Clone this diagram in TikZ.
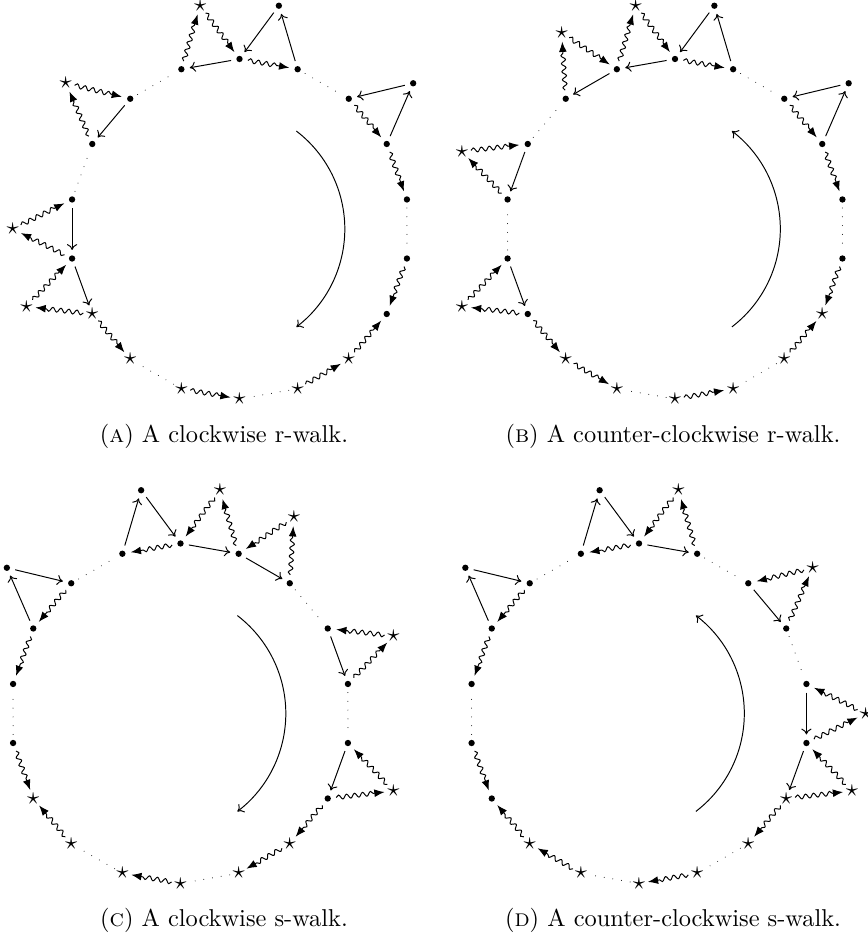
\documentclass[tikz,border=0pt]{standalone}
\usetikzlibrary{decorations.pathmorphing,arrows.meta}
\begin{document}
\begin{tikzpicture}[x=0.41pt,y=0.41pt,
  dotn/.style={circle,fill,inner sep=0pt,minimum size=2.6pt,outer sep=2.2pt},
  starn/.style={circle,inner sep=0pt,outer sep=0.3pt},
  sarr/.style={-{To[length=2.4pt,width=4.2pt]}},
  warr/.style={decorate,decoration={snake,amplitude=0.9pt,segment length=3.3pt,post length=4.2pt},-{Latex[length=4.2pt,width=3.2pt]}},
  dotl/.style={line cap=round,dash pattern=on 0pt off 3.6pt},
  captxt/.style={anchor=base}]
\useasboundingbox (0,0) rectangle (868,941);
\def\R{170}
\def\Q{226.7}
% ---------------- Panel A ----------------
\begin{scope}[shift={(239.5,712)}]
  \foreach \k in {0,1,2,3,4,5,6,13,14,15,16,17} \node[dotn] (A\k) at ({90-20*\k}:\R) {};
  \foreach \k in {7,8,9,10,11,12} \node[starn] (A\k) at ({90-20*\k}:\R) {$\star$};
  \node[dotn] (Aq0) at (80:\Q) {};
  \node[dotn] (Aq2) at (40:\Q) {};
  \node[starn] (Aq12) at (200:\Q) {$\star$};
  \node[starn] (Aq13) at (180:\Q) {$\star$};
  \node[starn] (Aq15) at (140:\Q) {$\star$};
  \node[starn] (Aq17) at (100:\Q) {$\star$};
  \foreach \a/\b in {0/17,1/q0,q0/0,q2/2,3/q2,14/13,13/12,16/15} \draw[sarr] (A\a) -- (A\b);
  \foreach \a/\b in {0/1,17/q17,q17/0,2/3,3/4,5/6,7/6,8/7,10/9,12/11,q12/13,12/q12,q13/14,13/q13,15/q15,q15/16} \draw[warr] (A\a) -- (A\b);
  \foreach \a/\b in {1/2,4/5,8/9,10/11,14/15,16/17} \draw[dotl] (A\a) -- (A\b);
  \draw[sarr] (56.9,97.9) arc[start angle=52.6,end angle=-52.6,radius=123.3];
\end{scope}
\node[captxt] (capA) at (224,498.5) {(\textsc{a}) A clockwise r-walk.};
% ---------------- Panel B ----------------
\begin{scope}[shift={(675,712)}]
  \foreach \k in {0,1,2,3,4,5,12,13,14,15,16,17} \node[dotn] (B\k) at ({90-20*\k}:\R) {};
  \foreach \k in {6,7,8,9,10,11} \node[starn] (B\k) at ({90-20*\k}:\R) {$\star$};
  \node[dotn] (Bq0) at (80:\Q) {};
  \node[dotn] (Bq2) at (40:\Q) {};
  \node[starn] (Bq17) at (100:\Q) {$\star$};
  \node[starn] (Bq16) at (120:\Q) {$\star$};
  \node[starn] (Bq14) at (160:\Q) {$\star$};
  \node[starn] (Bq12) at (200:\Q) {$\star$};
  \foreach \a/\b in {0/17,1/q0,q0/0,q2/2,3/q2,17/16,15/14,13/12} \draw[sarr] (B\a) -- (B\b);
  \foreach \a/\b in {0/1,17/q17,q17/0,2/3,3/4,16/q16,q16/17,q14/15,14/q14,q12/13,12/q12,12/11,11/10,9/8,7/6,5/6} \draw[warr] (B\a) -- (B\b);
  \foreach \a/\b in {1/2,4/5,15/16,13/14,9/10,7/8} \draw[dotl] (B\a) -- (B\b);
  \draw[sarr] (56.9,-97.9) arc[start angle=-52.6,end angle=52.6,radius=123.3];
\end{scope}
\node[captxt] (capB) at (673,498.5) {(\textsc{b}) A counter-clockwise r-walk.};
% ---------------- Panel C ----------------
\begin{scope}[shift={(180.5,227.5)}]
  \foreach \k in {0,1,2,3,4,5,6,13,14,15,16,17} \node[dotn] (C\k) at ({90-20*\k}:\R) {};
  \foreach \k in {7,8,9,10,11,12} \node[starn] (C\k) at ({90-20*\k}:\R) {$\star$};
  \node[dotn] (Cq17) at (100:\Q) {};
  \node[dotn] (Cq15) at (140:\Q) {};
  \node[starn] (Cq0) at (80:\Q) {$\star$};
  \node[starn] (Cq1) at (60:\Q) {$\star$};
  \node[starn] (Cq3) at (20:\Q) {$\star$};
  \node[starn] (Cq5) at (-20:\Q) {$\star$};
  \foreach \a/\b in {17/q17,q17/0,0/1,1/2,3/4,5/6,15/q15,q15/16} \draw[sarr] (C\a) -- (C\b);
  \foreach \a/\b in {0/17,q0/0,1/q0,q1/1,2/q1,q3/3,4/q3,q5/5,6/q5,6/7,7/8,9/10,11/12,13/12,15/14,16/15} \draw[warr] (C\a) -- (C\b);
  \foreach \a/\b in {2/3,4/5,8/9,10/11,13/14,16/17} \draw[dotl] (C\a) -- (C\b);
  \draw[sarr] (56.9,97.9) arc[start angle=52.6,end angle=-52.6,radius=123.3];
\end{scope}
\node[captxt] (capC) at (224,14) {(\textsc{c}) A clockwise s-walk.};
% ---------------- Panel D ----------------
\begin{scope}[shift={(639,227.5)}]
  \foreach \k in {0,1,2,3,4,5,12,13,14,15,16,17} \node[dotn] (D\k) at ({90-20*\k}:\R) {};
  \foreach \k in {6,7,8,9,10,11} \node[starn] (D\k) at ({90-20*\k}:\R) {$\star$};
  \node[dotn] (Dq17) at (100:\Q) {};
  \node[dotn] (Dq15) at (140:\Q) {};
  \node[starn] (Dq0) at (80:\Q) {$\star$};
  \node[starn] (Dq2) at (40:\Q) {$\star$};
  \node[starn] (Dq4) at (0:\Q) {$\star$};
  \node[starn] (Dq5) at (-20:\Q) {$\star$};
  \foreach \a/\b in {17/q17,q17/0,0/1,2/3,4/5,5/6,15/q15,q15/16} \draw[sarr] (D\a) -- (D\b);
  \foreach \a/\b in {0/17,q0/0,1/q0,q2/2,3/q2,q4/4,5/q4,q5/5,6/q5,6/7,8/9,10/11,11/12,13/12,15/14,16/15} \draw[warr] (D\a) -- (D\b);
  \foreach \a/\b in {1/2,3/4,7/8,9/10,13/14,16/17} \draw[dotl] (D\a) -- (D\b);
  \draw[sarr] (56.9,-97.9) arc[start angle=-52.6,end angle=52.6,radius=123.3];
\end{scope}
\node[captxt] (capD) at (673,14) {(\textsc{d}) A counter-clockwise s-walk.};
\end{tikzpicture}
\end{document}
